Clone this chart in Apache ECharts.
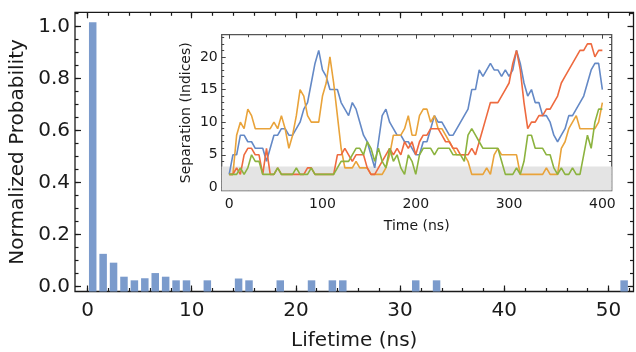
<!DOCTYPE html>
<html>
<head>
<meta charset="utf-8">
<script src="https://cdn.jsdelivr.net/npm/echarts@6/dist/echarts.min.js"></script>
<style>
  html, body { margin: 0; padding: 0; background: #fff; }
  #chart { width: 636px; height: 352px; }
</style>
</head>
<body>
<div id="chart"></div>
<script>
// ---- Lifetime histogram (1 ns bins, start of each bin) ----
const binStart = [0, 1, 2, 3, 4, 5, 6, 7, 8, 9, 11, 14, 15, 18, 21, 23, 24, 31, 33, 51];
const probability = [1.017, 0.125, 0.091, 0.037, 0.023, 0.031, 0.051, 0.037, 0.023, 0.023,
                     0.023, 0.030, 0.023, 0.023, 0.023, 0.023, 0.023, 0.023, 0.023, 0.023];

// ---- Inset: separation trajectories, sampled every 4 ns from 0 to 400 ns ----
const timeStep = 4;
const sepBlue = [
  2, 5, 5, 8, 8, 7, 7, 6, 6, 6,
  4, 6, 8, 8, 9, 9, 8, 8, 9, 10,
  12, 13, 16, 19, 21, 18, 17, 15, 15, 15,
  13, 12, 11, 13, 12, 10, 8, 7, 5, 3,
  7, 11, 12, 10, 9, 8, 8, 7, 7, 6,
  5, 5, 7, 7, 9, 11, 10, 10, 9, 8,
  8, 9, 10, 11, 12, 15, 15, 18, 17, 18,
  19, 18, 18, 17, 18, 17, 18, 21, 19, 16,
  14, 15, 13, 13, 11, 11, 10, 8, 7, 8,
  9, 11, 11, 12, 13, 14, 16, 18, 19, 19,
  15
];
const sepOrange = [
  2, 2, 8, 10, 9, 12, 11, 9, 9, 9,
  9, 9, 10, 9, 11, 9, 6, 8, 11, 15,
  14, 11, 10, 10, 10, 14, 16, 20, 16, 11,
  6, 3, 3, 3, 4, 3, 3, 3, 2, 2,
  2, 2, 3, 5, 8, 8, 8, 9, 11, 8,
  8, 11, 12, 12, 10, 11, 9, 9, 8, 7,
  6, 5, 5, 5, 4, 2, 2, 2, 2, 3,
  2, 5, 6, 5, 5, 5, 5, 5, 2, 2,
  2, 2, 2, 2, 2, 3, 2, 2, 2, 6,
  7, 9, 10, 11, 9, 9, 9, 9, 9, 10,
  13
];
const sepRed = [
  2, 2, 3, 2, 5, 6, 6, 5, 5, 2,
  6, 2, 2, 3, 2, 2, 2, 2, 2, 2,
  2, 3, 3, 2, 2, 2, 2, 2, 2, 5,
  5, 6, 5, 4, 5, 5, 5, 3, 2, 2,
  3, 4, 5, 6, 5, 6, 5, 7, 6, 7,
  5, 7, 8, 8, 9, 9, 9, 8, 7, 7,
  6, 6, 5, 5, 5, 6, 5, 7, 9, 11,
  13, 13, 13, 14, 15, 16, 19, 21, 18, 13,
  9, 10, 10, 11, 11, 12, 12, 13, 14, 16,
  17, 18, 19, 20, 21, 21, 22, 22, 20, 21,
  21
];
const sepGreen = [
  2, 2, 2, 3, 2, 3, 5, 4, 4, 2,
  2, 2, 2, 3, 2, 2, 2, 2, 3, 2,
  2, 2, 3, 2, 2, 2, 2, 2, 2, 3,
  4, 4, 4, 5, 6, 6, 5, 7, 6, 4,
  6, 4, 3, 6, 4, 5, 3, 2, 5, 4,
  2, 5, 6, 6, 6, 5, 6, 6, 6, 6,
  5, 5, 5, 4, 8, 9, 8, 7, 6, 6,
  6, 6, 6, 4, 2, 2, 2, 3, 2, 4,
  8, 8, 6, 6, 6, 5, 5, 3, 2, 3,
  2, 2, 3, 2, 2, 5, 8, 6, 10, 12,
  12
];
const contactCutoff = 3.2;   // shaded contact region upper bound

// ---- Tick values ----
const mainXMajor = [0, 10, 20, 30, 40, 50];
const mainXMinor = [0, 2, 4, 6, 8, 10, 12, 14, 16, 18, 20, 22, 24, 26, 28, 30, 32, 34, 36, 38, 40, 42, 44, 46, 48, 50, 52];
const mainYMajor = [0, 0.2, 0.4, 0.6, 0.8, 1.0];
const mainYMinor = [0, 0.05, 0.1, 0.15, 0.2, 0.25, 0.3, 0.35, 0.4, 0.45, 0.5, 0.55, 0.6, 0.65, 0.7, 0.75, 0.8, 0.85, 0.9, 0.95, 1.0, 1.05];
const insetXMajor = [0, 100, 200, 300, 400];
const insetXMinor = [0, 20, 40, 60, 80, 100, 120, 140, 160, 180, 200, 220, 240, 260, 280, 300, 320, 340, 360, 380, 400];
const insetYMajor = [0, 5, 10, 15, 20];
const insetYMinor = [0, 1, 2, 3, 4, 5, 6, 7, 8, 9, 10, 11, 12, 13, 14, 15, 16, 17, 18, 19, 20, 21, 22, 23];

// ---- Axis ranges ----
const mainXRange = [-1.2, 52.4];
const mainYRange = [-0.02, 1.055];
const insetXRange = [-8, 410];
const insetYRange = [-0.5, 23.4];

const FONT = 'DejaVu Sans';
const BAR_COLOR = '#7b9bcc';
const BAR_HALF = 0.36;
const COLORS = { blue: '#6489c6', orange: '#e9a33a', red: '#ee6a3f', green: '#8cb33f' };

function withTime(values) {
  return values.map((v, i) => [i * timeStep, v]);
}

// One frame side = major tick axis + minor tick axis; both sides of each dimension get ticks.
function axisSet(dim, gridIndex, range, majors, minors, spec) {
  const sides = dim === 'x' ? ['bottom', 'top'] : ['left', 'right'];
  const base = {
    type: 'value', gridIndex, min: range[0], max: range[1],
    splitLine: { show: false },
    axisLine: { show: false, onZero: false }
  };
  const tickStyle = { color: spec.color, width: spec.tickWidth };
  const out = [];
  sides.forEach((side, k) => {
    const major = Object.assign({}, base, {
      position: side,
      axisTick: { show: true, inside: true, length: spec.major, customValues: majors, lineStyle: tickStyle },
      axisLabel: { show: false }
    });
    if (k === 0) {
      major.axisLabel = {
        show: true, customValues: majors, margin: spec.labelMargin,
        color: spec.labelColor, fontFamily: FONT, fontSize: spec.fontSize,
        formatter: spec.formatter
      };
      major.name = spec.name;
      major.nameLocation = 'middle';
      major.nameGap = spec.nameGap;
      major.nameMoveOverlap = false;
      major.nameTextStyle = { fontFamily: FONT, fontSize: spec.nameSize, color: spec.labelColor };
    }
    const minor = Object.assign({}, base, {
      position: side,
      axisTick: { show: true, inside: true, length: spec.minor, customValues: minors, lineStyle: tickStyle },
      axisLabel: { show: false }
    });
    out.push(major, minor);
  });
  return out;
}

const chart = echarts.init(document.getElementById('chart'), null, { renderer: 'canvas' });

const xAxes = [].concat(
  axisSet('x', 0, mainXRange, mainXMajor, mainXMinor, {
    color: '#1a1a1a', tickWidth: 1.2, major: 6, minor: 3.5, labelMargin: 9,
    labelColor: '#1a1a1a', fontSize: 20, name: 'Lifetime (ns)', nameGap: 39.5, nameSize: 20,
    formatter: v => String(v)
  }),
  axisSet('x', 1, insetXRange, insetXMajor, insetXMinor, {
    color: '#444', tickWidth: 1, major: 4, minor: 2.5, labelMargin: 7,
    labelColor: '#1a1a1a', fontSize: 14, name: 'Time (ns)', nameGap: 29, nameSize: 14,
    formatter: v => String(v)
  })
);
const yAxes = [].concat(
  axisSet('y', 0, mainYRange, mainYMajor, mainYMinor, {
    color: '#1a1a1a', tickWidth: 1.2, major: 6, minor: 3.5, labelMargin: 5,
    labelColor: '#1a1a1a', fontSize: 20, name: 'Normalized Probability', nameGap: 47, nameSize: 20,
    formatter: v => v.toFixed(1)
  }),
  axisSet('y', 1, insetYRange, insetYMajor, insetYMinor, {
    color: '#444', tickWidth: 1, major: 4, minor: 2.5, labelMargin: 4,
    labelColor: '#1a1a1a', fontSize: 14, name: 'Separation (Indices)', nameGap: 28, nameSize: 14,
    formatter: v => String(v)
  })
);

function trace(name, values, color) {
  return {
    name, type: 'line', xAxisIndex: 4, yAxisIndex: 4,
    data: withTime(values), showSymbol: false, symbol: 'none',
    lineStyle: { color, width: 1.6 }, z: 3, silent: true, animation: false
  };
}

chart.setOption({
  animation: false,
  backgroundColor: '#fff',
  grid: [
    { left: 75, top: 12.3, width: 558.5, height: 279.2, show: true, outerBoundsMode: 'none', containLabel: false,
      borderColor: '#1a1a1a', borderWidth: 1.3, backgroundColor: 'transparent' },
    { left: 221.7, top: 34.7, width: 390, height: 156, show: true, outerBoundsMode: 'none', containLabel: false,
      borderColor: '#555', borderWidth: 1.3, backgroundColor: '#fff' }
  ],
  xAxis: xAxes,
  yAxis: yAxes,
  series: [
    {
      name: 'lifetime', type: 'custom', xAxisIndex: 0, yAxisIndex: 0,
      data: binStart.map((b, i) => [b, probability[i]]),
      encode: { x: 0, y: 1 },
      renderItem: (params, api) => {
        const b = api.value(0), p = api.value(1);
        const topLeft = api.coord([b + 0.5 - BAR_HALF, p]);
        const bottomRight = api.coord([b + 0.5 + BAR_HALF, mainYRange[0]]);
        return {
          type: 'rect',
          shape: { x: topLeft[0], y: topLeft[1], width: bottomRight[0] - topLeft[0], height: bottomRight[1] - topLeft[1] },
          style: { fill: BAR_COLOR }
        };
      },
      silent: true
    },
    {
      name: 'contact', type: 'line', xAxisIndex: 4, yAxisIndex: 4,
      data: [[insetXRange[0], contactCutoff], [insetXRange[1], contactCutoff]],
      symbol: 'none', lineStyle: { width: 0 },
      areaStyle: { color: '#e4e4e4', opacity: 1, origin: 'start' },
      z: 1, silent: true
    },
    trace('blue', sepBlue, COLORS.blue),
    trace('orange', sepOrange, COLORS.orange),
    trace('red', sepRed, COLORS.red),
    trace('green', sepGreen, COLORS.green)
  ]
});
</script>
</body>
</html>
